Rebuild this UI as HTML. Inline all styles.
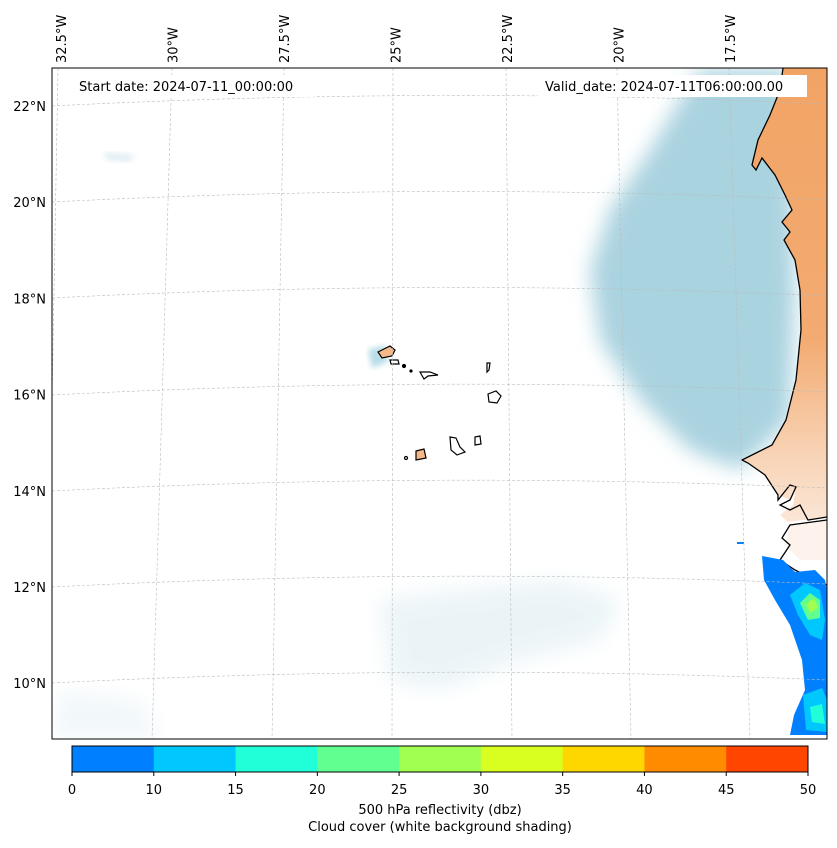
<!DOCTYPE html>
<html><head><meta charset="utf-8">
<style>
body{margin:0;background:#fff;font-family:"Liberation Sans","DejaVu Sans",sans-serif;}
svg text{font-family:"DejaVu Sans","Liberation Sans",sans-serif;font-size:13px;fill:#000;}
</style></head>
<body>
<svg width="837" height="843" viewBox="0 0 837 843">
<defs>
<filter id="blur8"><feGaussianBlur stdDeviation="10"/></filter>
<filter id="blur3"><feGaussianBlur stdDeviation="3"/></filter>
<linearGradient id="landg" x1="0" y1="0" x2="0" y2="1">
<stop offset="0" stop-color="#f2a465"/><stop offset="0.6" stop-color="#f3ab72"/><stop offset="0.85" stop-color="#f8d3b5"/><stop offset="1" stop-color="#fbe6d6"/>
</linearGradient>
<clipPath id="mapclip"><rect x="52" y="68" width="775" height="671"/></clipPath>
</defs>
<g clip-path="url(#mapclip)">
<rect x="52" y="68" width="775" height="671" fill="#fff"/>
<g>
<path filter="url(#blur8)" fill="#aad3e0" d="M700,70 L790,70 L795,300 L790,420 L740,470 L690,450 L640,400 L600,340 L590,270 L610,210 L650,150 L680,100Z"/>
<path filter="url(#blur8)" fill="#e6f2f6" opacity="0.8" d="M380,600 L460,590 L560,580 L620,600 L600,640 L520,660 L440,690 L390,680Z"/>
<path filter="url(#blur8)" fill="#eef6f9" opacity="0.8" d="M60,690 L140,700 L160,739 L52,739Z"/>
<path filter="url(#blur3)" fill="#b8dce8" d="M368,350 L385,345 L388,362 L372,368Z"/>
<path filter="url(#blur3)" fill="#e0eef4" d="M104,152 L135,155 L130,162 L106,160Z"/>
</g>
<path fill="url(#landg)" d="M783,68 L780,90 L770,115 L758,140 L752,165 L756,170 L762,158 L775,175 L785,195 L792,210 L782,222 L790,232 L784,240 L795,260 L800,290 L801,330 L796,380 L786,420 L772,445 L742,460 L748,463 L765,475 L778,495 L790,500 L796,487 L793,505 L780,515 L788,522 L827,517 L827,68Z"/>
<path fill="#fdf3ec" d="M790,525 L827,520 L827,560 L800,560 L785,545Z"/>
<path fill="none" stroke="#000" stroke-width="1.3" d="M783,68 L780,90 L770,115 L758,140 L752,165 L756,170 L762,158 L775,175 L785,195 L792,210 L782,222 L790,232 L784,240 L795,260 L800,290 L801,330 L796,380 L786,420 L772,445 L742,460 L748,463 L765,475 L778,495 L778,500 L790,485 L796,487 L790,500 L780,505 L790,510 L800,505 L808,520 L827,517 M827,520 L790,525 L782,538 L790,545 L780,560 L795,570 L815,580 L827,585"/>
<g stroke="#000" stroke-width="1.2">
<path fill="#f5b889" d="M378,352 L390,346 L395,350 L392,356 L382,358Z"/>
<path fill="#fff" d="M390,360 L398,360 L399,364 L391,364Z"/>
<path fill="#fff" d="M420,372 L430,372 L438,375 L428,376 L424,379Z"/>
<path fill="#fff" d="M487,363 L490,363 L489,370 L487,372Z"/>
<path fill="#fff" d="M488,394 L496,391 L501,396 L497,403 L489,402Z"/>
<path fill="#fff" d="M450,437 L456,438 L460,447 L465,452 L457,455 L451,450Z"/>
<path fill="#fff" d="M475,437 L480,436 L481,444 L475,445Z"/>
<path fill="#f5b889" d="M416,451 L424,449 L426,458 L416,460Z"/>
<circle cx="406" cy="458" r="1.5" fill="#fff"/>
<circle cx="404" cy="366" r="1.5" fill="#000"/>
<circle cx="411" cy="371" r="1" fill="#000"/>
</g>
<g>
<path fill="#0080ff" d="M762,556 L783,560 L795,572 L815,570 L825,580 L827,590 L827,735 L790,735 L794,715 L805,690 L802,660 L790,625 L775,600 L764,580Z"/>
<path fill="#00c8ff" d="M790,595 L805,583 L820,590 L825,620 L822,640 L810,635 L798,615Z"/>
<path fill="#60ff90" d="M800,603 L810,593 L820,600 L820,618 L808,620Z"/>
<path fill="#a0ff50" d="M806,604 L814,598 L818,608 L810,613Z"/>
<path fill="#00c8ff" d="M803,695 L822,688 L827,700 L827,732 L806,730Z"/>
<path fill="#20ffd8" d="M810,707 L822,704 L825,724 L812,722Z"/>
<rect x="737" y="542" width="7" height="2" fill="#0080ff"/>
</g>
<g fill="none" stroke="#bbb" stroke-width="0.6" stroke-dasharray="3,2">
<line x1="58" y1="68" x2="46" y2="739"/>
<line x1="172" y1="68" x2="152" y2="739"/>
<line x1="284" y1="68" x2="272" y2="739"/>
<line x1="393" y1="68" x2="392" y2="739"/>
<line x1="506" y1="68" x2="512" y2="739"/>
<line x1="617" y1="68" x2="631" y2="739"/>
<line x1="729" y1="68" x2="750" y2="739"/>
<path d="M52,106 Q440,86 827,104"/>
<path d="M52,202 Q440,182 827,200"/>
<path d="M52,298 Q440,278 827,296"/>
<path d="M52,395 Q440,375 827,392"/>
<path d="M52,491 Q440,471 827,488"/>
<path d="M52,587 Q440,567 827,584"/>
<path d="M52,683 Q440,663 827,680"/>
</g>
<rect x="72" y="75" width="242" height="22" fill="#fff"/>
<text x="79" y="91">Start date: 2024-07-11_00:00:00</text>
<rect x="538" y="75" width="269" height="22" fill="#fff"/>
<text x="545" y="91">Valid_date: 2024-07-11T06:00:00.00</text>
</g>
<rect x="52" y="68" width="775" height="671" fill="none" stroke="#000" stroke-width="1"/>
<g id="latlabels"></g>
<g id="lonlabels"></g>
<g id="cbar"></g>
<text x="440" y="814" text-anchor="middle">500 hPa reflectivity (dbz)</text>
<text x="440" y="831" text-anchor="middle">Cloud cover (white background shading)</text>
</svg>
<script>
const latLabels=["22°N","20°N","18°N","16°N","14°N","12°N","10°N"];
const latValues=[22,20,18,16,14,12,10];
const lonLabels=["32.5°W","30°W","27.5°W","25°W","22.5°W","20°W","17.5°W"];
const lonValues=[-32.5,-30,-27.5,-25,-22.5,-20,-17.5];
const cbBounds=[0,10,15,20,25,30,35,40,45,50];
const cbColors=["#0080ff","#00c8ff","#20ffd8","#60ff90","#a0ff50","#d8ff20","#ffd700","#ff8c00","#ff4500"];
const NS="http://www.w3.org/2000/svg";
function yLat(v){return 106+(22-v)*48.1;}
function xLon(v){return 61+(v+32.5)*44.6;}
const lg=document.getElementById('latlabels');
latValues.forEach((v,i)=>{const t=document.createElementNS(NS,'text');


t.setAttribute('x',46);t.setAttribute('y',yLat(v)+5);t.setAttribute('text-anchor','end');t.textContent=latLabels[i];lg.appendChild(t);});
const og=document.getElementById('lonlabels');
lonValues.forEach((v,i)=>{const t=document.createElementNS(NS,'text');


const x=xLon(v)+5,y=63;t.setAttribute('x',x);t.setAttribute('y',y);t.setAttribute('transform','rotate(-90 '+x+' '+y+')');t.textContent=lonLabels[i];og.appendChild(t);});
const cb=document.getElementById('cbar');
const x0=72,w=736,n=cbColors.length,sw=w/n;
function xCb(i){return x0+i*sw;}
cbColors.forEach((c,i)=>{const r=document.createElementNS(NS,'rect');


r.setAttribute('x',xCb(i));r.setAttribute('y',746);r.setAttribute('width',sw+0.5);r.setAttribute('height',26);r.setAttribute('fill',c);cb.appendChild(r);});
const fr=document.createElementNS(NS,'rect');


fr.setAttribute('x',x0);fr.setAttribute('y',746);fr.setAttribute('width',w);fr.setAttribute('height',26);fr.setAttribute('fill','none');fr.setAttribute('stroke','#000');cb.appendChild(fr);
cbBounds.forEach((b,i)=>{const l=document.createElementNS(NS,'line');


l.setAttribute('x1',xCb(i));l.setAttribute('x2',xCb(i));l.setAttribute('y1',772);l.setAttribute('y2',776);l.setAttribute('stroke','#000');cb.appendChild(l);
const t=document.createElementNS(NS,'text');


t.setAttribute('x',xCb(i));t.setAttribute('y',794);t.setAttribute('text-anchor','middle');t.textContent=b;cb.appendChild(t);});
</script>
</body></html>
